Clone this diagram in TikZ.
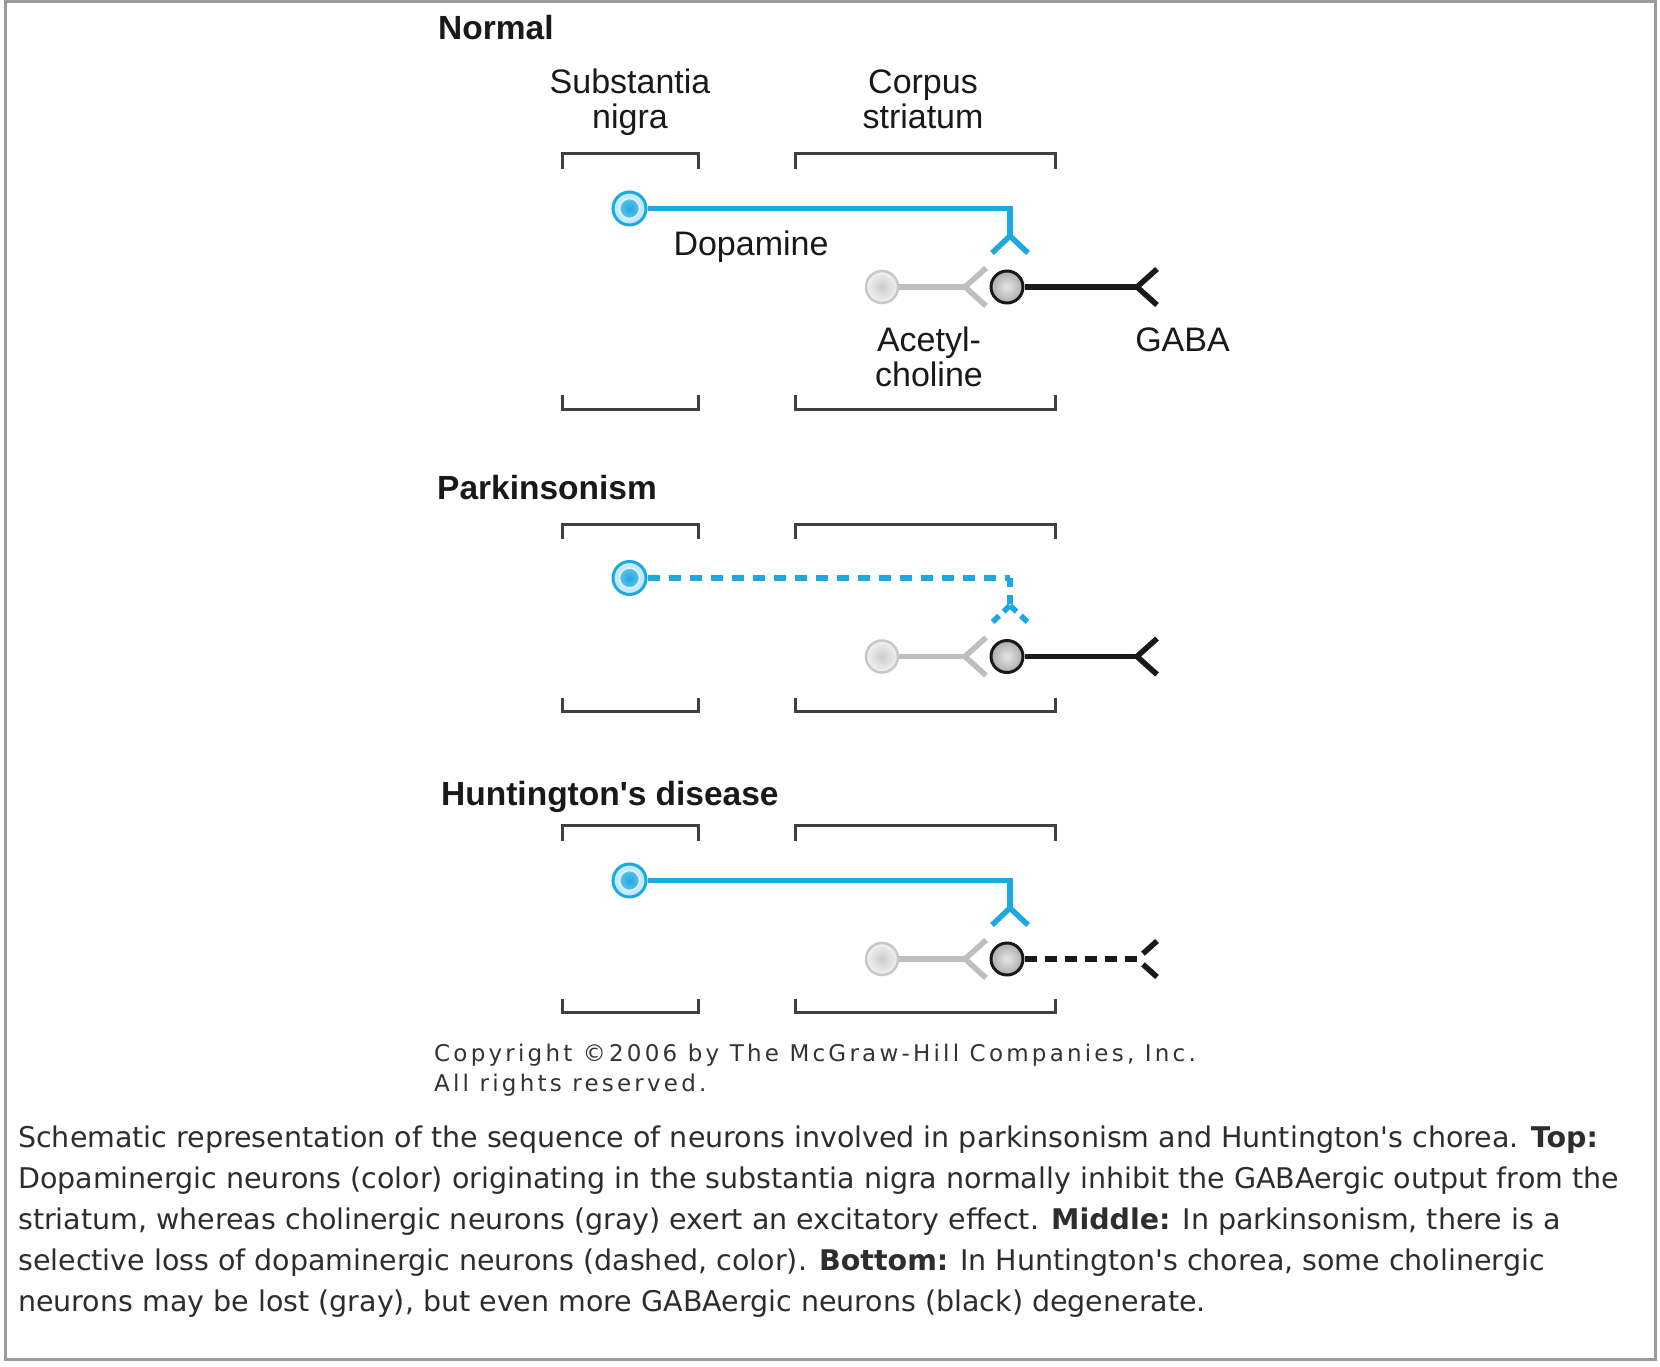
\documentclass[tikz,border=0pt]{standalone}
\usepackage{fontspec}
\setmainfont{DejaVu Sans}
\newfontfamily\capfont{DejaVu Sans}
\newfontfamily\labfont{Liberation Sans}
\newfontfamily\copyfont[LetterSpace=14]{DejaVu Sans}
\newcommand\apos{\char"27\relax}
\definecolor{neuroblue}{RGB}{28,168,224}
\definecolor{neurolight}{RGB}{196,234,250}
\definecolor{graystroke}{RGB}{200,200,200}
\definecolor{grayline}{RGB}{190,190,190}
\definecolor{bracketcol}{RGB}{64,64,64}
\definecolor{captioncol}{RGB}{45,45,45}
\definecolor{framecol}{RGB}{155,155,155}
\tikzset{
  bracketline/.style={draw=bracketcol, line width=3pt},
  blueline/.style={draw=neuroblue, line width=5.5pt},
  grayaxon/.style={draw=grayline, line width=5.5pt},
  blackaxon/.style={draw=black!90, line width=5.5pt},
  bluecell/.style={circle, draw=neuroblue, line width=3pt, fill=neurolight, minimum size=33pt, inner sep=0pt},
  bluecore/.style={circle, inner color=neuroblue, outer color=neuroblue!70, draw=white!85!neuroblue, line width=1.5pt, minimum size=20pt, inner sep=0pt},
  graycell/.style={circle, draw=graystroke, line width=2.5pt, inner color=gray!40, outer color=gray!10, minimum size=32pt, inner sep=0pt},
  darkcell/.style={circle, draw=black!90, line width=3pt, inner color=gray!20, outer color=gray!65, minimum size=32pt, inner sep=0pt},
  lab/.style={font=\labfont\fontsize{34}{36}\selectfont, text=black!90, inner sep=0pt, anchor=base},
  paneltitle/.style={font=\labfont\bfseries\fontsize{33.5}{36}\selectfont, text=black!90, inner sep=0pt, anchor=base west},
  captext/.style={font=\capfont\fontsize{28.5}{41}\selectfont, text=captioncol, inner sep=0pt, anchor=base west},
  copytext/.style={font=\copyfont\fontsize{23}{30}\selectfont, text=black!80, inner sep=0pt, anchor=base west},
}
\begin{document}
\begin{tikzpicture}[x=1pt,y=-1pt]
\fill[white] (0,0) rectangle (1660,1367);
\useasboundingbox (0,0) rectangle (1660,1367);
\draw[framecol, line width=3pt] (5.5,1.8) rectangle (1655.5,1359.5);

% ---------- Panel 1: Normal ----------
\node[paneltitle] (t1) at (438,39.3) {Normal};
\node[lab] (sn1) at (630,93.3) {Substantia};
\node[lab] (sn2) at (630,128.3) {nigra};
\node[lab] (cs1) at (923,93.3) {Corpus};
\node[lab] (cs2) at (923,128.3) {striatum};
\draw[bracketline] (562,169) -- (562,154) -- (698,154) -- (698,169);
\draw[bracketline] (795,169) -- (795,154) -- (1055,154) -- (1055,169);
\draw[bracketline] (562,395) -- (562,409.5) -- (698,409.5) -- (698,395);
\draw[bracketline] (795,395) -- (795,409.5) -- (1055,409.5) -- (1055,395);

\node[bluecell] (d1) at (629.5,208.5) {};
\node[bluecore] (d1c) at (d1.center) {};
\coordinate (f1) at (1010,236);
\draw[blueline] (d1.east) -- (d1.east -| f1) -- (f1);
\draw[blueline] (f1) ++(-18,17) -- (f1) -- ++(18,17);
\node[graycell] (g1) at (882,287) {};
\coordinate (ga1) at (965,287);
\draw[grayaxon] (g1.east) -- (ga1);
\draw[grayaxon] (ga1) ++(21,-19) -- (ga1) -- ++(21,19);
\node[darkcell] (k1) at (1007,287) {};
\coordinate (ka1) at (1137,287);
\draw[blackaxon] (k1.east) -- (ka1);
\draw[blackaxon] (ka1) ++(20,-18) -- (ka1) -- ++(20,18);
\node[lab] (dopa) at (751,255) {Dopamine};
\node[lab] (ach1) at (929,351.7) {Acetyl-};
\node[lab] (ach2) at (929,386.7) {choline};
\node[lab] (gaba) at (1182.5,351.7) {GABA};

% ---------- Panel 2: Parkinsonism ----------
\node[paneltitle] (t2) at (437,499.7) {Parkinsonism};
\draw[bracketline] (562,539) -- (562,524) -- (698,524) -- (698,539);
\draw[bracketline] (795,539) -- (795,524) -- (1055,524) -- (1055,539);
\draw[bracketline] (562,697.5) -- (562,711.7) -- (698,711.7) -- (698,697.5);
\draw[bracketline] (795,697.5) -- (795,711.7) -- (1055,711.7) -- (1055,697.5);
\begin{scope}[shift={(0,369.5)}]
\node[bluecell] (d2) at (629.5,208.5) {};
\node[bluecore] (d2c) at (d2.center) {};
\coordinate (f2) at (1010,236);
\draw[blueline, dash pattern=on 12pt off 9pt] (d2.east) -- (d2.east -| f2);
\draw[blueline, dash pattern=on 9pt off 8pt] (d2.east -| f2) -- (f2);
\draw[blueline, dash pattern=on 9pt off 6pt] (f2) -- ++(-18,17);
\draw[blueline, dash pattern=on 9pt off 6pt] (f2) -- ++(18,17);
\node[graycell] (g2) at (882,287) {};
\coordinate (ga2) at (965,287);
\draw[grayaxon] (g2.east) -- (ga2);
\draw[grayaxon] (ga2) ++(21,-19) -- (ga2) -- ++(21,19);
\node[darkcell] (k2) at (1007,287) {};
\coordinate (ka2) at (1137,287);
\draw[blackaxon] (k2.east) -- (ka2);
\draw[blackaxon] (ka2) ++(20,-18) -- (ka2) -- ++(20,18);
\end{scope}

% ---------- Panel 3: Huntington's disease ----------
\node[paneltitle] (t3) at (441,805.7) {Huntington\apos s disease};
\draw[bracketline] (562,840.5) -- (562,825.5) -- (698,825.5) -- (698,840.5);
\draw[bracketline] (795,840.5) -- (795,825.5) -- (1055,825.5) -- (1055,840.5);
\draw[bracketline] (562,998.5) -- (562,1012.5) -- (698,1012.5) -- (698,998.5);
\draw[bracketline] (795,998.5) -- (795,1012.5) -- (1055,1012.5) -- (1055,998.5);
\begin{scope}[shift={(0,672)}]
\node[bluecell] (d3) at (629.5,208.5) {};
\node[bluecore] (d3c) at (d3.center) {};
\coordinate (f3) at (1010,236);
\draw[blueline] (d3.east) -- (d3.east -| f3) -- (f3);
\draw[blueline] (f3) ++(-18,17) -- (f3) -- ++(18,17);
\node[graycell] (g3) at (882,287) {};
\coordinate (ga3) at (965,287);
\draw[grayaxon] (g3.east) -- (ga3);
\draw[grayaxon] (ga3) ++(21,-19) -- (ga3) -- ++(21,19);
\node[darkcell] (k3) at (1007,287) {};
\coordinate (ka3) at (1137,287);
\draw[blackaxon, dash pattern=on 12pt off 8pt] (k3.east) -- (ka3);
\draw[blackaxon, dash pattern=on 0pt off 8pt on 20pt off 20pt] (ka3) -- ++(20,-18);
\draw[blackaxon, dash pattern=on 0pt off 8pt on 20pt off 20pt] (ka3) -- ++(20,18);
\end{scope}

% ---------- Copyright ----------
\node[copytext] (cp1) at (434,1061.7) {Copyright ©2006 by The McGraw-Hill Companies, Inc.};
\node[copytext] (cp2) at (434,1091.7) {All rights reserved.};

% ---------- Caption ----------
\node[captext] (c1) at (18,1147.3) {Schematic representation of the sequence of neurons involved in parkinsonism and Huntington\apos s chorea. \textbf{Top:}};
\node[captext] (c2) at (18,1188.4) {Dopaminergic neurons (color) originating in the substantia nigra normally inhibit the GABAergic output from the};
\node[captext] (c3) at (18,1229.5) {striatum, whereas cholinergic neurons (gray) exert an excitatory effect. \textbf{Middle:} In parkinsonism, there is a};
\node[captext] (c4) at (18,1270.6) {selective loss of dopaminergic neurons (dashed, color). \textbf{Bottom:} In Huntington\apos s chorea, some cholinergic};
\node[captext] (c5) at (18,1311.7) {neurons may be lost (gray), but even more GABAergic neurons (black) degenerate.};
\end{tikzpicture}
\end{document}
